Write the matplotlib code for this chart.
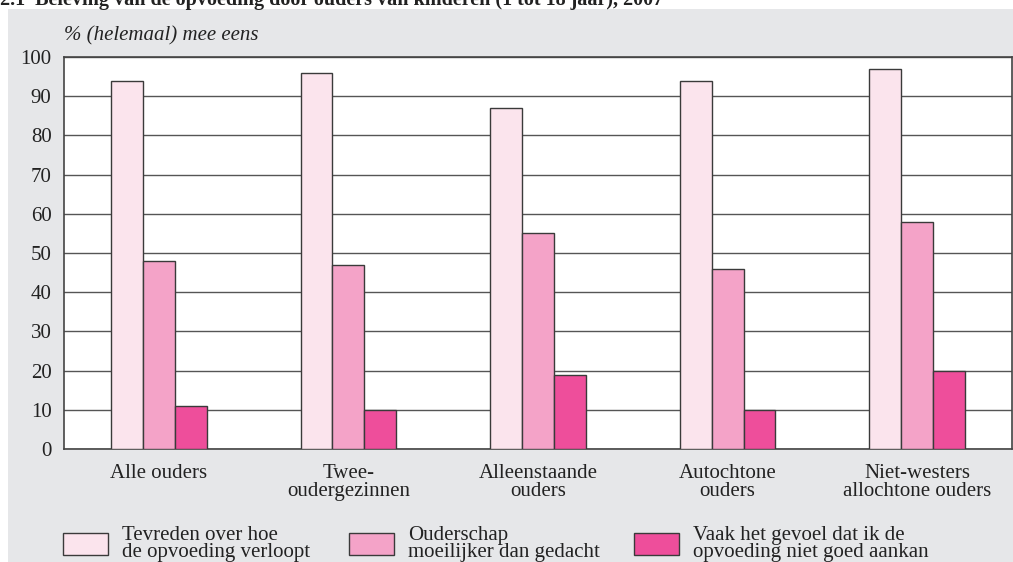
import matplotlib
matplotlib.use("Agg")
import matplotlib.pyplot as plt
from matplotlib.patches import Rectangle
import numpy as np

categories = ["Alle ouders", "Twee-\noudergezinnen", "Alleenstaande\nouders",
              "Autochtone\nouders", "Niet-westers\nallochtone ouders"]
series_names = ["Tevreden over hoe\nde opvoeding verloopt",
                "Ouderschap\nmoeilijker dan gedacht",
                "Vaak het gevoel dat ik de\nopvoeding niet goed aankan"]
tevreden = [94, 96, 87, 94, 97]
moeilijker = [48, 47, 55, 46, 58]
vaak = [11, 10, 19, 10, 20]
yticks = [0, 10, 20, 30, 40, 50, 60, 70, 80, 90, 100]

colors = ["#fbe4ed", "#f4a3c8", "#ee4e9b"]
edge = "#3a3a3a"
bg = "#e6e7e9"
fs = 15

plt.rcParams['font.family'] = ['Liberation Serif', 'DejaVu Serif']

W, H = 1013, 562
fig = plt.figure(figsize=(W / 100, H / 100), dpi=100, facecolor="white")
fig.patches.append(Rectangle((8 / W, 0), 1 - 8 / W, 1 - 9 / H, transform=fig.transFigure,
                             facecolor=bg, edgecolor="none", zorder=-5))

fig.text(0 / W, 1 - 5 / H,
         "2.1  Beleving van de opvoeding door ouders van kinderen (1 tot 18 jaar), 2007",
         fontsize=14.5, fontweight="bold", va="baseline", ha="left", color="#222222")

ax = fig.add_axes([64 / W, 1 - 449 / H, (1012 - 64) / W, (449 - 57) / H])
ax.set_facecolor("white")
ax.set_xlim(-0.5, 4.5)
ax.set_ylim(0, 100)

x = np.arange(len(categories))
bw = 32 / 190
for i, (vals, c) in enumerate(zip([tevreden, moeilijker, vaak], colors)):
    ax.bar(x + (i - 1) * bw, vals, width=bw, color=c, edgecolor=edge, linewidth=1.0,
           zorder=3, label=series_names[i])

ax.set_yticks(yticks)
ax.yaxis.grid(True, color="#555555", linewidth=1.0, zorder=1)
ax.set_axisbelow(True)
ax.tick_params(axis="y", length=0, pad=9, labelsize=fs, colors="#222222")
ax.set_xticks(x)
ax.set_xticklabels(categories, fontsize=fs, linespacing=0.9, color="#222222")
ax.tick_params(axis="x", length=0, pad=11)
for s in ax.spines.values():
    s.set_color("#444444")
    s.set_linewidth(1.2)

fig.text(64 / W, 1 - 36 / H, "% (helemaal) mee eens", fontsize=fs, style="italic",
         ha="left", va="center", color="#222222")

# legend
lx = [63, 349, 634]
for i in range(3):
    fig.patches.append(Rectangle((lx[i] / W, 1 - 555 / H), 45 / W, 22 / H,
                                 transform=fig.transFigure, facecolor=colors[i],
                                 edgecolor=edge, linewidth=1.0, zorder=2))
    fig.text((lx[i] + 59) / W, 1 - 544 / H, series_names[i], fontsize=fs,
             ha="left", va="center", linespacing=0.9, color="#222222")

fig.savefig("out.png", dpi=100, facecolor="white")
